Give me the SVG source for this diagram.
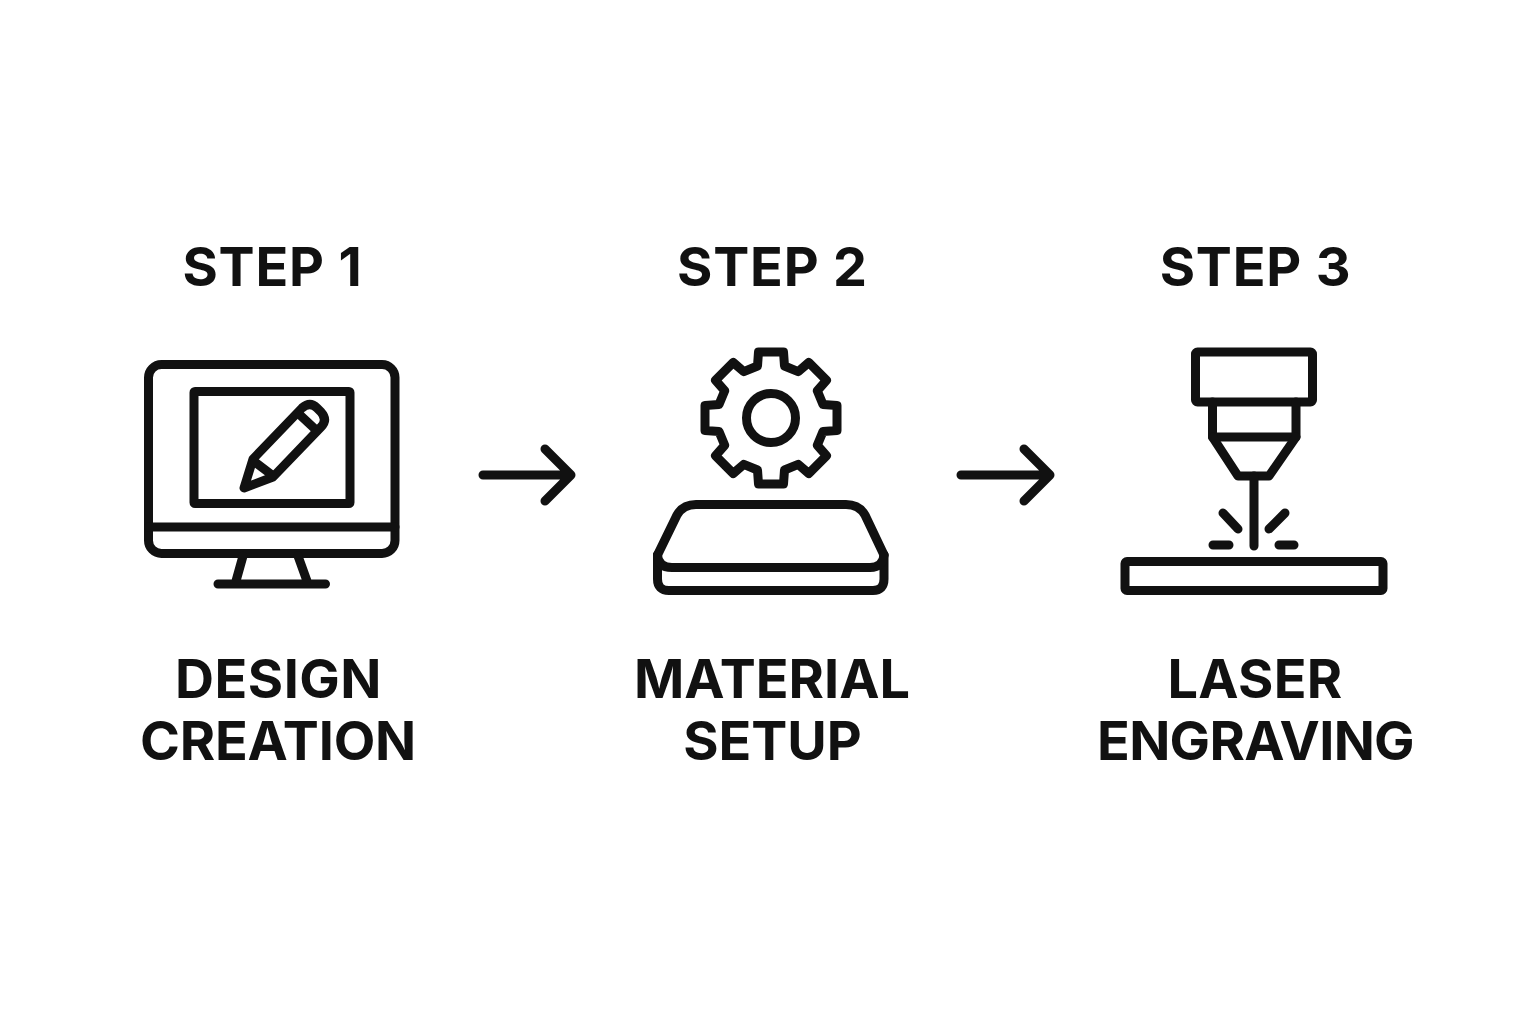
<svg xmlns="http://www.w3.org/2000/svg" width="1536" height="1024" viewBox="0 0 1536 1024">
<style>
.bg{fill:#fff}
.i{fill:none;stroke:#111;stroke-width:9;stroke-linecap:round;stroke-linejoin:round}
.t{font-family:"Inter","Liberation Sans",sans-serif;font-weight:700;font-size:54px;fill:#111;text-anchor:middle}
.s{letter-spacing:.8px}
</style>
<rect class="bg" width="1536" height="1024"/>
<g id="step1">
<text class="t s" x="272.500" y="286">STEP 1</text>
<g class="i">
<rect x="148.500" y="364.500" width="246.500" height="189" rx="13"/>
<path d="M148.500 527H395"/>
<rect x="194" y="391.500" width="156" height="112" rx="1"/>
<path d="M243 556L236 581M298 556L307 581M218 584H325.500"/>
<path d="M244 488L253 459L302 408Q310 401 317 408L321 412Q328 420 321 427L273 477Z"/>
<path d="M300 415L315 429M255 462L272 475"/>
</g>
<text class="t" style="letter-spacing:.5px" x="278.500" y="698">DESIGN</text>
<text class="t" style="letter-spacing:-.2px" x="278" y="760">CREATION</text>
</g>
<g id="step2">
<text class="t s" x="772.500" y="286">STEP 2</text>
<g class="i">
<path transform="translate(771 418)" d="M-13.500 -52L-12.500 -66L12.500 -66L13.500 -52L27.200 -46.300L37.800 -55.500L55.500 -37.800L46.300 -27.200L52 -13.500L66 -12.500L66 12.500L52 13.500L46.300 27.200L55.500 37.800L37.800 55.500L27.200 46.300L13.500 52L12.500 66L-12.500 66L-13.500 52L-27.200 46.300L-37.800 55.500L-55.500 37.800L-46.300 27.200L-52 13.500L-66 12.500L-66 -12.500L-52 -13.500L-46.300 -27.200L-55.500 -37.800L-37.800 -55.500L-27.200 -46.300Z"/>
<circle cx="771" cy="418" r="24.500"/>
<path d="M657.500 555L677 515Q683 504.500 696 504.500H846Q859 504.500 865 515L884 555"/>
<path d="M657.500 555V579Q657.500 590.500 669 590.500H873Q884 590.500 884 579V555"/>
<path d="M657.500 555Q658 567.500 672 567.500H870Q883 567.500 884 555"/>
</g>
<text class="t" x="772" y="698">MATERIAL</text>
<text class="t" x="772.500" y="760">SETUP</text>
</g>
<g id="step3">
<text class="t s" x="1255.500" y="286">STEP 3</text>
<g class="i">
<rect x="1195.500" y="352" width="117" height="50" rx="2"/>
<path d="M1212.500 402V437H1296V402"/>
<path d="M1212.500 437L1238 476H1269L1296 437"/>
<path d="M1254 476V546M1223 513L1238 529M1285 513L1269 529M1213 545H1229M1279 545H1294"/>
<rect x="1125" y="561.500" width="258" height="29" rx="2"/>
</g>
<text class="t" style="letter-spacing:.3px" x="1255" y="698">LASER</text>
<text class="t" style="letter-spacing:-.7px" x="1255.500" y="760">ENGRAVING</text>
</g>
<g id="connectors" class="i">
<path d="M483 475H571M545 449L571 475L545 501"/>
<path d="M961 475H1050M1024 449L1050 475L1024 501"/>
</g>
</svg>
